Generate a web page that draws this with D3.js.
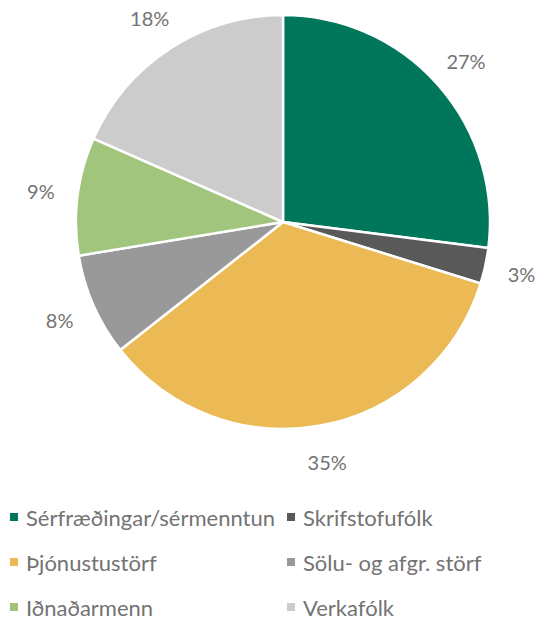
<!DOCTYPE html>
<html><head><meta charset="utf-8">
<script src="https://cdn.jsdelivr.net/npm/d3@7"></script>
<style>body{margin:0;background:#fff}svg{display:block}</style>
</head><body>
<svg id="c" width="536" height="619"></svg>
<script>
const categories = ["Sérfræðingar/sérmenntun","Skrifstofufólk","Þjónustustörf","Sölu- og afgr. störf","Iðnaðarmenn","Verkafólk"];
const values = [27.0, 2.8, 34.6, 8.0, 9.2, 18.4];
const labels = ["27%","3%","35%","8%","9%","18%"];
const colors = ["#00775A","#595959","#EBBA55","#999999","#A2C57D","#CCCCCC"];

const svg = d3.select("#c");
const cx = 283, cy = 222, R = 207;
const font = "Lato, 'Open Sans', sans-serif";
const textColor = "#737373";

const pie = d3.pie().sort(null).value(d => d);
const arcs = pie(values);
const arc = d3.arc().innerRadius(0).outerRadius(R);
const labelArc = d3.arc().innerRadius(244).outerRadius(244);

const g = svg.append("g").attr("transform", `translate(${cx},${cy})`);
g.selectAll("path").data(arcs).join("path")
  .attr("d", arc)
  .attr("fill", (d,i) => colors[i])
  .attr("stroke", "#fff")
  .attr("stroke-width", 2.5)
  .attr("stroke-linejoin", "round");

g.selectAll("text").data(arcs).join("text")
  .attr("transform", d => `translate(${labelArc.centroid(d)})`)
  .attr("text-anchor", "middle")
  .attr("dominant-baseline", "central")
  .attr("font-family", font)
  .attr("font-size", 20)
  .attr("fill", textColor)
  .text((d,i) => labels[i]);

// legend
const legX = [10, 287], legY = [517, 562, 607];
const leg = svg.append("g");
categories.forEach((c, i) => {
  const x = legX[i % 2], y = legY[Math.floor(i / 2)];
  leg.append("rect").attr("x", x).attr("y", y - 4).attr("width", 8).attr("height", 8).attr("fill", colors[i]);
  leg.append("text").attr("x", x + 16).attr("y", y)
    .attr("dominant-baseline", "central")
    .attr("font-family", font).attr("font-size", 22).attr("fill", textColor)
    .text(c);
});
</script>
</body></html>
